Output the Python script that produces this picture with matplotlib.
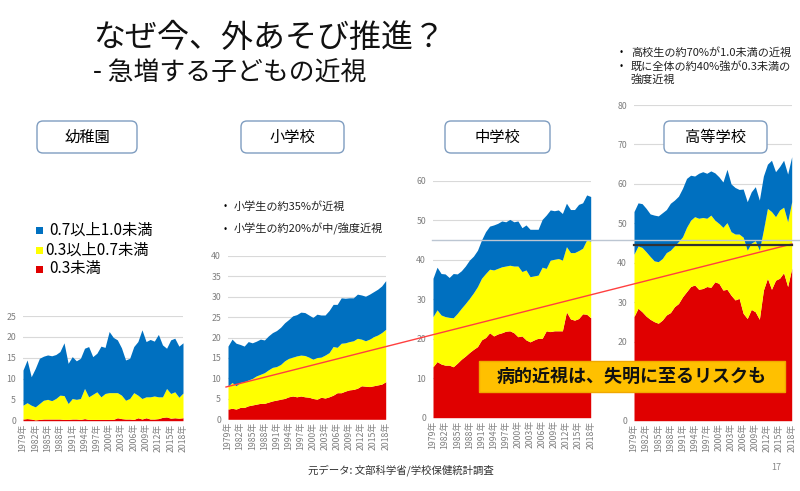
import numpy as np
import matplotlib
matplotlib.use("Agg")
import matplotlib.pyplot as plt
from matplotlib.patches import FancyBboxPatch, Rectangle

plt.rcParams['font.family'] = ['Noto Sans CJK JP', 'DejaVu Sans']

# 裸眼視力の割合 (%) -- cumulative: <0.3, <0.7, <1.0
years = list(range(1979, 2019))
year_labels = [f"{y}年" for y in years[::3]]
legend_labels = ['0.7以上1.0未満', '0.3以上0.7未満', '0.3未満']
panel_titles = ['幼稚園', '小学校', '中学校', '高等学校']

kinder_lt03 = [0.4, 0.5, 0.4, 0.2, 0.3, 0.4, 0.4, 0.4, 0.4, 0.4,
               0.3, 0.3, 0.4, 0.4, 0.3, 0.5, 0.3, 0.3, 0.3, 0.3,
               0.3, 0.3, 0.3, 0.7, 0.5, 0.4, 0.4, 0.3, 0.7, 0.4,
               0.7, 0.4, 0.4, 0.5, 0.8, 0.9, 0.6, 0.7, 0.6, 0.7]
kinder_lt07 = [3.7, 4.3, 3.7, 3.3, 4.1, 4.9, 5.1, 4.8, 5.3, 6.1,
               6.0, 4.1, 5.3, 5.1, 5.3, 7.7, 5.7, 6.3, 6.9, 5.7,
               6.5, 6.7, 6.7, 6.7, 6.1, 4.9, 5.3, 6.7, 6.1, 5.3,
               5.7, 5.7, 5.9, 5.7, 5.7, 7.7, 6.5, 6.9, 5.6, 6.6]
kinder_lt10 = [12.1, 14.5, 10.5, 12.5, 14.9, 15.4, 15.7, 15.5, 15.8, 16.5,
               18.6, 13.7, 15.3, 14.3, 14.9, 17.3, 17.7, 15.3, 16.1, 17.8,
               17.5, 21.3, 19.9, 19.3, 17.4, 14.5, 14.9, 17.7, 18.9, 21.7,
               18.9, 19.4, 19.0, 20.6, 18.1, 17.3, 19.3, 19.7, 17.8, 18.6]

elem_lt03 = [2.5, 2.7, 2.5, 2.9, 2.9, 3.3, 3.5, 3.7, 3.9, 3.9,
             4.2, 4.5, 4.7, 4.9, 5.1, 5.5, 5.7, 5.5, 5.7, 5.5,
             5.4, 5.1, 4.9, 5.4, 5.2, 5.5, 5.9, 6.5, 6.5, 6.9,
             7.2, 7.3, 7.6, 8.2, 8.1, 8.0, 8.2, 8.4, 8.6, 9.2]
elem_lt07 = [8.1, 9.0, 8.2, 9.0, 9.2, 9.6, 10.0, 10.6, 11.0, 11.4,
             12.1, 12.7, 12.9, 13.4, 14.3, 14.9, 15.2, 15.5, 15.7, 15.6,
             15.2, 14.7, 15.1, 15.2, 15.7, 16.3, 17.8, 17.6, 18.6, 18.7,
             19.0, 19.2, 19.8, 19.6, 19.2, 19.6, 20.2, 20.6, 21.2, 22.0]
elem_lt10 = [17.9, 19.6, 18.6, 18.3, 17.9, 19.0, 18.7, 19.1, 19.6, 19.4,
             20.4, 21.2, 21.7, 22.5, 23.6, 24.4, 25.3, 25.6, 26.2, 26.1,
             25.5, 24.9, 25.7, 25.5, 25.5, 26.6, 28.1, 28.1, 29.7, 29.6,
             29.7, 29.7, 30.6, 30.4, 30.1, 30.6, 31.2, 31.8, 32.6, 33.9]

mid_lt03 = [12.9, 14.2, 13.6, 13.3, 13.3, 12.9, 13.8, 14.8, 15.6, 16.5,
            17.3, 18.0, 19.7, 20.3, 21.5, 20.7, 21.2, 21.5, 21.9, 22.0,
            21.5, 20.5, 20.7, 19.7, 19.2, 19.7, 20.1, 20.1, 22.0, 21.8,
            22.0, 22.0, 22.0, 26.8, 25.0, 24.7, 25.1, 26.3, 26.2, 25.3]
mid_lt07 = [25.6, 27.3, 26.0, 25.6, 25.4, 25.3, 26.4, 27.7, 28.9, 30.2,
            31.6, 33.2, 35.3, 36.5, 37.6, 37.4, 37.8, 38.2, 38.4, 38.6,
            38.4, 38.4, 37.0, 37.4, 35.7, 35.9, 36.1, 38.1, 37.8, 39.9,
            40.1, 40.3, 39.9, 43.3, 41.8, 41.8, 42.3, 42.9, 45.0, 44.7]
mid_lt10 = [35.3, 38.1, 36.5, 36.4, 35.5, 36.5, 36.4, 37.2, 38.4, 39.9,
            40.9, 42.4, 45.0, 47.1, 48.5, 48.8, 49.2, 49.8, 49.6, 50.2,
            49.6, 49.8, 48.1, 48.8, 47.7, 47.7, 47.7, 50.2, 51.3, 52.6,
            52.4, 52.6, 51.7, 54.3, 52.7, 52.7, 54.0, 54.4, 56.4, 56.0]

high_lt03 = [26.4, 28.5, 27.6, 26.5, 25.7, 25.1, 24.7, 25.5, 26.8, 27.4,
             28.9, 29.7, 31.4, 32.7, 34.0, 34.4, 33.3, 33.5, 34.0, 33.8,
             35.2, 34.8, 33.1, 33.3, 31.8, 30.6, 31.0, 27.2, 25.9, 28.2,
             27.6, 25.7, 33.1, 36.1, 33.3, 35.6, 36.1, 37.5, 34.0, 38.6]
high_lt07 = [42.2, 44.3, 43.9, 42.8, 41.6, 40.5, 40.3, 41.1, 42.6, 43.2,
             44.3, 45.4, 46.6, 49.0, 50.8, 51.7, 51.3, 51.5, 51.3, 52.1,
             50.8, 50.0, 49.0, 50.2, 47.9, 47.3, 47.3, 46.5, 43.2, 45.0,
             45.6, 43.2, 48.3, 53.8, 53.0, 51.7, 53.4, 54.1, 50.4, 55.5]
high_lt10 = [53.0, 55.2, 55.0, 53.8, 52.4, 52.1, 51.9, 52.7, 53.5, 55.1,
             55.9, 56.9, 58.9, 61.4, 62.2, 62.0, 62.7, 63.1, 62.7, 63.3,
             62.8, 61.8, 60.5, 63.7, 60.0, 59.1, 58.6, 58.7, 55.5, 58.0,
             59.3, 55.9, 62.0, 65.0, 66.0, 63.1, 64.4, 66.0, 62.5, 66.9]

BLUE = '#0070C0'
YELLOW = '#FFFF00'
RED = '#E00000'
GRID = '#D9D9D9'
TICK = '#7F7F7F'


def draw_panel(ax, lt03, lt07, lt10, ymax, step):
    x = np.arange(len(years))
    ax.fill_between(x, 0, lt03, color=RED, lw=0)
    ax.fill_between(x, lt03, lt07, color=YELLOW, lw=0)
    ax.fill_between(x, lt07, lt10, color=BLUE, lw=0)
    ax.set_xlim(0, len(years) - 1)
    ax.set_ylim(0, ymax)
    ax.set_yticks(np.arange(0, ymax + 1, step))
    ax.yaxis.grid(True, color=GRID, lw=0.8)
    ax.set_axisbelow(True)
    ax.set_xticks(x[::3])
    ax.set_xticklabels(year_labels, rotation=90)
    ax.tick_params(axis='both', length=0, labelsize=6.3, labelcolor=TICK)
    ax.tick_params(axis='y', pad=5)
    ax.tick_params(axis='x', pad=2)
    for s in ax.spines.values():
        s.set_visible(False)
    ax.patch.set_alpha(0)


W, H = 800, 491
fig = plt.figure(figsize=(W / 100, H / 100), dpi=100)


def px_axes(left, right, bottom, top):
    return fig.add_axes([left / W, (H - bottom) / H, (right - left) / W, (bottom - top) / H])


draw_panel(px_axes(23, 183, 420.7, 316), kinder_lt03, kinder_lt07, kinder_lt10, 25, 5)
draw_panel(px_axes(228, 385.7, 419.3, 255.7), elem_lt03, elem_lt07, elem_lt10, 40, 5)
draw_panel(px_axes(433, 590.7, 417.7, 180.7), mid_lt03, mid_lt07, mid_lt10, 60, 10)
draw_panel(px_axes(634, 791.7, 420.7, 105), high_lt03, high_lt07, high_lt10, 80, 10)

# slide decorations on top, in pixel coordinates
ov = fig.add_axes([0, 0, 1, 1], zorder=10)
ov.set_xlim(0, W)
ov.set_ylim(H, 0)
ov.axis('off')

ov.text(93, 38, 'なぜ今、外あそび推進？', fontsize=23, va='center', color='#111111')
ov.text(93, 73, '- 急増する子どもの近視', fontsize=18.6, va='center', color='#111111')

# panel name boxes
for name, x0, x1 in zip(panel_titles, [37, 241, 445, 664], [137, 344, 550, 767]):
    ov.add_patch(FancyBboxPatch((x0, 121), x1 - x0, 32,
                                boxstyle='round,pad=0,rounding_size=6',
                                fc='white', ec='#7F9DC0', lw=1))
    ov.text((x0 + x1) / 2, 137, name, fontsize=11, ha='center', va='center')

# legend
for lab, col, y, tx in zip(legend_labels, [BLUE, YELLOW, RED], [230, 250, 269], [49, 45, 49]):
    ov.add_patch(Rectangle((36, y - 3.5), 7, 7, fc=col, ec='none'))
    ov.text(tx, y, lab, fontsize=11, va='center')

# notes
for y, txt in zip([206, 229], ['小学生の約35%が近視', '小学生の約20%が中/強度近視']):
    ov.text(225, y, '•', fontsize=7, va='center', ha='center')
    ov.text(234, y, txt, fontsize=8, va='center', color='#222222')
for y, txt, bullet in zip([52, 66, 80], ['高校生の約70%が1.0未満の近視', '既に全体の約40%強が0.3未満の', '強度近視'],
                          [True, True, False]):
    if bullet:
        ov.text(621, y, '•', fontsize=7, va='center', ha='center')
    ov.text(631, y, txt, fontsize=8, va='center', color='#222222')

# trend + reference lines
ov.plot([226, 792], [387, 244], color='#FF4040', lw=1)
ov.plot([432, 800], [239.5, 239.5], color='#BCC6D2', lw=1)
ov.plot([634, 792], [244.5, 244.5], color='#333333', lw=1.6)

ov.add_patch(Rectangle((479, 361), 306, 31, fc='#FFC000', ec='#F0A800', lw=1))
ov.text(632, 376.5, '病的近視は、失明に至るリスクも', fontsize=13, fontweight='bold',
        ha='center', va='center', color='#111111')

ov.text(308, 470, '元データ: 文部科学省/学校保健統計調査', fontsize=7.5, va='center', color='#333333')
ov.text(776, 468, '17', fontsize=6.5, ha='center', va='center', color='#888888')

fig.savefig('out.png', dpi=100)
